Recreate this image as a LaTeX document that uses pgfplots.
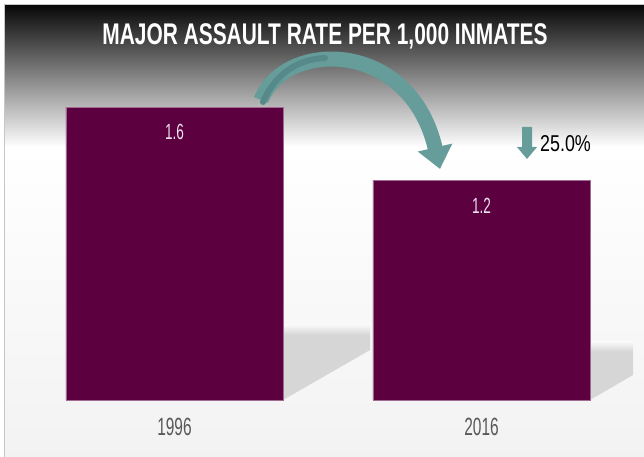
\documentclass[border=0pt]{standalone}
\usepackage{fontspec}
\setmainfont{Liberation Sans}
\newfontfamily\titlefont{Liberation Sans Bold}[FakeStretch=0.70]
\newfontfamily\condfont{Liberation Sans}[FakeStretch=0.62]
\newfontfamily\narrowfont{Liberation Sans}[FakeStretch=0.78]
\usepackage{pgfplots}
\pgfplotsset{compat=1.18}
\usetikzlibrary{arrows.meta}
\definecolor{barcol}{HTML}{5C0040}
\definecolor{baredge}{HTML}{A06A92}
\definecolor{tealA}{HTML}{669C9A}
\definecolor{tealB}{HTML}{56898A}
\definecolor{ticktxt}{HTML}{595959}
\definecolor{valtxt}{HTML}{EEE2F2}
\begin{document}
\begin{tikzpicture}[x=1bp,y=1bp]
\useasboundingbox (0,0) rectangle (644,457);
% background
\shade[top color=black!97, bottom color=white] (4,310) rectangle (644,452);
\shade[top color=white, bottom color=gray!10] (4,0) rectangle (644,310.5);
\draw[gray!45, line width=1bp] (4,0) -- (4,452) -- (644,452);
% bar shadows
\shade[top color=gray!6, bottom color=gray!32] (283,132) -- (370,132) -- (370,122) -- (283,122) -- cycle;
\fill[gray!32] (283,122) -- (370,122) -- (370,107) -- (283,57) -- cycle;
\shade[top color=gray!6, bottom color=gray!32] (590,115) -- (633,115) -- (633,105) -- (590,105) -- cycle;
\fill[gray!32] (590,105) -- (633,105) -- (633,82) -- (590,57) -- cycle;
\begin{axis}[
  at={(21bp,57bp)}, anchor=south west,
  scale only axis, width=614bp, height=366bp,
  xmin=-0.5, xmax=1.5, ymin=0, ymax=2,
  axis line style={draw=none},
  ytick=\empty,
  xtick={0,1}, xticklabels={1996,2016},
  major tick length=0pt,
  xticklabel style={font=\condfont\fontsize{25}{25}\selectfont, text=ticktxt, anchor=base, yshift=-36bp},
  ybar, bar width=0.707, bar shift=0pt,
  /pgf/number format/assume math mode=true,
  nodes near coords={\pgfmathprintnumber[fixed,precision=1,fixed zerofill]{\pgfplotspointmeta}},
  every node near coord/.append style={font=\condfont\fontsize{22}{22}\selectfont, text=valtxt, anchor=center, yshift=-25bp},
  clip=false,
]
\addplot[fill=barcol, draw=baredge, line width=0.6bp] coordinates {(0,1.6) (1,1.2)};
\end{axis}
% title
\node[font=\titlefont\fontsize{30}{30}\selectfont, text=white] at (325,421) {MAJOR ASSAULT\ RATE PER 1,000 INMATES};
% curved arrow
\draw[line width=15bp, tealA, -{Triangle[width=34bp,length=22bp]}] (261,357) .. controls (285,418) and (410,418) .. (440,288);
\draw[line width=6bp, tealB, line cap=round] (263,355) .. controls (276,385) and (300,398) .. (325,399);
% down arrow
\fill[tealA] (522,330) -- (532,330) -- (532,310) -- (537,310) -- (527,298) -- (517,310) -- (522,310) -- cycle;
\node[font=\narrowfont\fontsize{23}{23}\selectfont, text=black, anchor=west, inner sep=0pt] at (540,313) {25.0\%};
\end{tikzpicture}
\end{document}
